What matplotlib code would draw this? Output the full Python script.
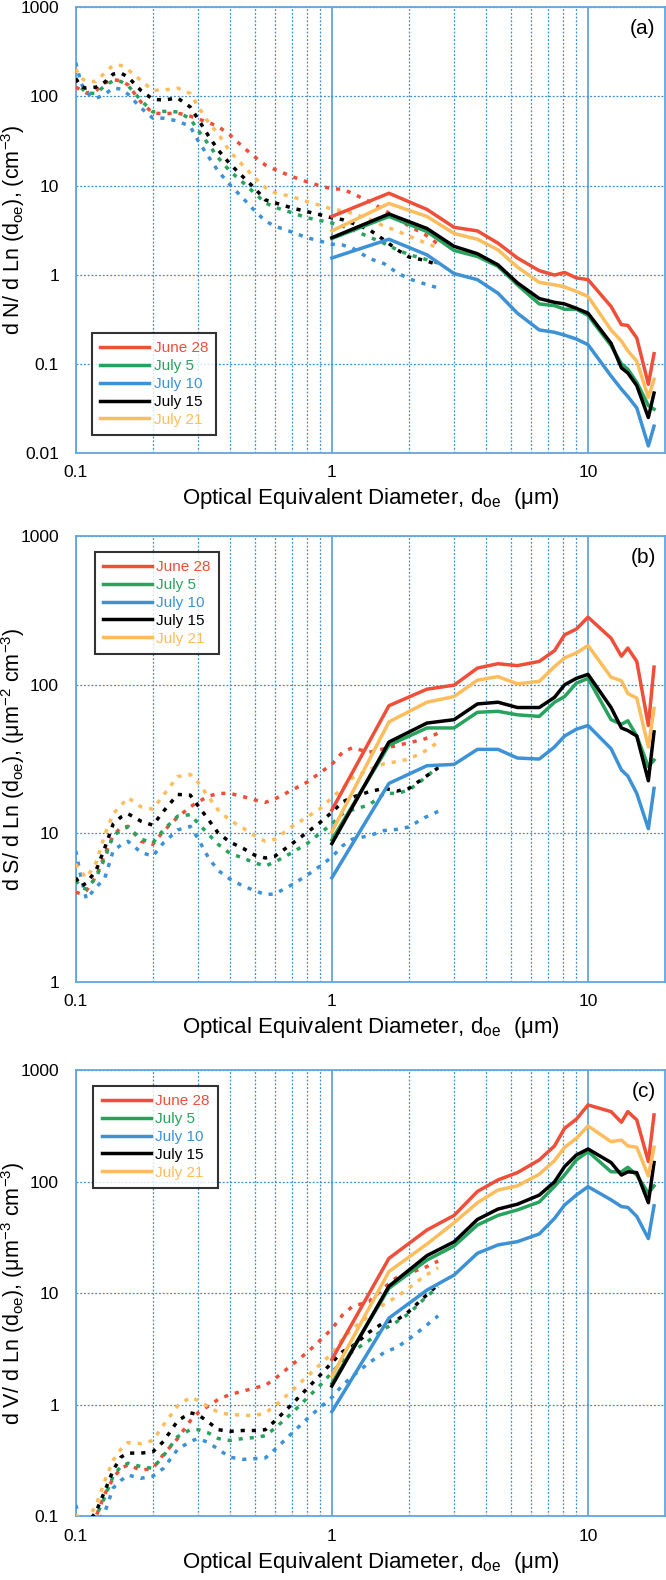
import matplotlib
matplotlib.use("Agg")
import matplotlib.pyplot as plt
from matplotlib.ticker import FixedLocator, LogLocator, NullFormatter

plt.rcParams['font.family'] = ['Liberation Sans', 'DejaVu Sans']
plt.rcParams['mathtext.fontset'] = 'custom'
plt.rcParams['mathtext.rm'] = 'Liberation Sans'
plt.rcParams['mathtext.it'] = 'Liberation Sans:italic'

dates = ['June 28', 'July 5', 'July 10', 'July 15', 'July 21']
colors = ['#ef4f38', '#27a35d', '#3d92d6', '#000000', '#fdbd5c']

# small-particle instrument (dotted)
x_small = [0.1, 0.105, 0.11, 0.12, 0.13, 0.14, 0.15, 0.16, 0.18, 0.2, 0.22, 0.25,
           0.28, 0.3, 0.33, 0.36, 0.4, 0.45, 0.5, 0.55, 0.6, 0.7, 0.8, 0.9, 1.0,
           1.1, 1.2, 1.4, 1.6, 1.8, 2.0, 2.3, 2.6]
# optical counter (solid)
x_large = [1.0, 1.67, 2.35, 3.0, 3.7, 4.45, 5.3, 6.45, 7.4, 8.1, 9.0, 10.0,
           12.3, 13.5, 14.3, 15.5, 17.2, 18.1]

# (a) number
n_small_jun28 = [127, 118, 109, 116, 141, 154, 150, 135, 86, 65, 64, 65, 60, 56, 51, 46,
                 37, 27, 21, 17, 15.1, 12.6, 11.0, 9.9, 9.2, 9.1, 8.2, 6.6, 5.3, 4.3,
                 3.5, 2.85, 2.2]
n_small_jul05 = [160, 125, 109, 108, 132, 150, 147, 132, 90, 67, 68, 67, 56, 42, 29,
                 20.5, 14.5, 10.8, 8.2, 6.4, 5.7, 4.95, 4.35, 4.05, 3.8, 3.5, 3.2, 2.65,
                 2.25, 1.9, 1.68, 1.5, 1.35]
n_small_jul10 = [240, 140, 110, 95, 106, 124, 121, 106, 74, 57, 57, 53, 46, 32, 21,
                 14.5, 10.2, 7.2, 5.2, 4.0, 3.5, 3.0, 2.6, 2.38, 2.2, 2.15, 2.0, 1.52,
                 1.33, 1.05, 0.9, 0.79, 0.71]
n_small_jul15 = [158, 128, 124, 127, 145, 178, 183, 165, 116, 93, 91, 96, 76, 56, 36,
                 25, 17.5, 12.5, 9.3, 6.9, 6.4, 5.6, 5.1, 4.7, 4.35, 4.15, 3.8, 3.2,
                 2.45, 1.9, 1.58, 1.45, 1.29]
n_small_jul21 = [203, 160, 148, 147, 185, 223, 223, 200, 150, 117, 118, 124, 108, 78,
                 51, 38, 24, 16.8, 12.2, 9.5, 8.3, 7.5, 6.6, 6.0, 5.45, 5.2, 4.9, 4.2,
                 3.5, 3.1, 2.7, 2.3, 2.0]
n_large_jun28 = [4.5, 8.2, 5.4, 3.4, 3.1, 2.26, 1.54, 1.11, 0.99, 1.06, 0.92, 0.88,
                 0.44, 0.275, 0.27, 0.195, 0.059, 0.13]
n_large_jul05 = [2.55, 4.5, 3.05, 1.87, 1.6, 1.24, 0.77, 0.47, 0.45, 0.41, 0.41, 0.35,
                 0.16, 0.10, 0.087, 0.062, 0.034, 0.031]
n_large_jul10 = [1.54, 2.5, 1.67, 1.03, 0.88, 0.62, 0.37, 0.24, 0.226, 0.21, 0.19,
                 0.164, 0.073, 0.052, 0.043, 0.032, 0.012, 0.020]
n_large_jul15 = [2.6, 4.8, 3.3, 2.08, 1.72, 1.29, 0.81, 0.54, 0.49, 0.47, 0.42, 0.37,
                 0.17, 0.09, 0.079, 0.057, 0.025, 0.047]
n_large_jul21 = [3.1, 6.3, 4.5, 2.9, 2.5, 1.9, 1.22, 0.82, 0.77, 0.73, 0.65, 0.57,
                 0.24, 0.18, 0.14, 0.107, 0.042, 0.067]

# (b) surface
s_small_jun28 = [4.0, 3.9, 4.1, 5.1, 7.2, 9.6, 10.9, 11.1, 8.8, 8.4, 10.3, 12.8, 15.0,
                 16.2, 17.7, 18.5, 18.5, 17.6, 16.7, 16.1, 17.0, 19.5, 22, 25.5, 29,
                 35, 37.5, 35, 37, 39, 40.5, 43, 47]
s_small_jul05 = [4.8, 4.3, 4.2, 5.0, 6.8, 9.6, 10.4, 11.0, 9.1, 8.6, 10.5, 13.0, 13.3,
                 11.7, 9.8, 8.4, 7.3, 6.8, 6.3, 6.0, 6.4, 7.4, 8.5, 10.0, 11.5, 13.5,
                 14.3, 15.5, 18.5, 18.5, 19.5, 23.4, 28]
s_small_jul10 = [7.6, 5.0, 3.6, 4.3, 5.0, 7.6, 8.3, 8.8, 7.4, 7.0, 8.6, 10.5, 11.1,
                 9.2, 6.8, 5.6, 4.9, 4.4, 4.1, 3.85, 3.9, 4.5, 5.2, 6.0, 6.9, 8.2, 9.1,
                 9.6, 10.4, 10.6, 11.0, 12.7, 14.0]
s_small_jul15 = [5.0, 4.4, 4.6, 5.6, 8.0, 11.5, 12.8, 13.5, 12.0, 11.3, 14.0, 18.2,
                 18.0, 15.3, 12.3, 10.0, 8.7, 7.9, 7.1, 6.8, 7.0, 8.5, 10.1, 11.8, 13.8,
                 16.2, 17.4, 19, 20, 19.2, 20, 23.7, 27.5]
s_small_jul21 = [6.2, 5.5, 5.0, 6.3, 9.8, 13.5, 15.3, 17.3, 15.0, 14.5, 18, 24, 24.8,
                 22, 17.5, 14.3, 12.2, 10.8, 9.6, 8.8, 9.1, 11.1, 12.8, 14.6, 17.3, 20,
                 23.5, 26.8, 29.3, 30.3, 31.5, 35.5, 41]
s_large_jun28 = [14.3, 72, 93, 99, 129, 138, 134, 143, 169, 216, 236, 284, 205, 155,
                 176, 143, 53, 131]
s_large_jul05 = [9.0, 39, 51, 51, 65, 66, 62.5, 61, 76, 83, 102, 110, 58, 54, 57, 45,
                 28, 31]
s_large_jul10 = [5.0, 21.6, 28.4, 29, 36.6, 36.6, 32, 31.5, 38, 45, 50, 53, 37, 26.6,
                 24.2, 18.5, 10.7, 20]
s_large_jul15 = [8.5, 41, 55, 58, 74, 76, 70, 70, 82, 99.5, 110, 117, 70, 51, 49, 45,
                 22.5, 48]
s_large_jul21 = [10.2, 56, 76, 83, 107, 113, 101, 105, 132, 151, 163, 183, 112, 106,
                 87, 81, 38, 69]

# (c) volume
v_small_jun28 = [0.067, 0.065, 0.075, 0.1, 0.16, 0.22, 0.27, 0.29, 0.26, 0.27, 0.36,
                 0.5, 0.72, 0.85, 0.98, 1.12, 1.24, 1.33, 1.42, 1.5, 1.72, 2.3, 2.95,
                 3.8, 4.8, 6.4, 7.6, 8.5, 11.3, 14.0, 15.2, 17.0, 19.5]
v_small_jul05 = [0.08, 0.075, 0.077, 0.1, 0.15, 0.23, 0.28, 0.3, 0.28, 0.27, 0.35,
                 0.52, 0.6, 0.6, 0.56, 0.5, 0.48, 0.5, 0.51, 0.53, 0.62, 0.85, 1.15,
                 1.5, 1.95, 2.5, 3.0, 3.8, 4.8, 5.6, 6.6, 9.0, 11.5]
v_small_jul10 = [0.127, 0.088, 0.066, 0.086, 0.11, 0.18, 0.21, 0.235, 0.22, 0.23,
                 0.27, 0.4, 0.47, 0.5, 0.46, 0.4, 0.34, 0.325, 0.33, 0.335, 0.4, 0.56,
                 0.75, 0.95, 1.17, 1.5, 1.8, 2.4, 2.95, 3.3, 3.9, 5.0, 6.3]
v_small_jul15 = [0.083, 0.077, 0.084, 0.11, 0.17, 0.26, 0.34, 0.37, 0.37, 0.38, 0.47,
                 0.72, 0.85, 0.82, 0.7, 0.6, 0.58, 0.59, 0.59, 0.6, 0.72, 1.02, 1.4,
                 1.85, 2.4, 3.0, 3.35, 4.5, 5.5, 5.8, 6.9, 9.3, 12]
v_small_jul21 = [0.103, 0.096, 0.092, 0.125, 0.21, 0.32, 0.4, 0.46, 0.45, 0.48, 0.66,
                 0.98, 1.17, 1.1, 0.96, 0.86, 0.82, 0.81, 0.8, 0.85, 0.98, 1.35, 1.8,
                 2.3, 2.9, 3.9, 4.8, 6.3, 8.0, 9.4, 11.2, 14.3, 17]
v_large_jun28 = [2.56, 20.6, 37, 50, 82, 104, 121, 157, 210, 302, 364, 489, 426, 342,
                 426, 359, 152, 398]
v_large_jul05 = [1.56, 11.1, 19.9, 26.6, 41, 50, 56, 66, 91, 115, 157, 187, 123, 123,
                 135, 115, 79, 92]
v_large_jul10 = [0.87, 6.0, 10.7, 14.6, 22.9, 27.2, 29.1, 34.1, 47, 62, 76, 90.5, 69,
                 60, 59, 49, 31, 61]
v_large_jul15 = [1.48, 11.6, 21.8, 29, 46, 57, 63, 76, 100, 137, 174, 197, 149, 115,
                 123, 121, 65, 149]
v_large_jul21 = [1.8, 15.7, 27.7, 43, 65, 84.5, 92, 117, 155, 204, 245, 317, 229, 237,
                 210, 204, 113, 204]

GRID = '#3b8ed3'
SPINE = '#62a6df'
DOT = (0, (1.2, 2.0))


def draw_panel(ax, smalls, larges, ylabel, ylim, yticks, ylabels, tag, leg_loc,
               leg_anchor):
    ax.set_xscale('log')
    ax.set_yscale('log')
    ax.set_xlim(0.1, 20)
    ax.set_ylim(*ylim)

    for ys, c in zip(smalls, colors):
        ax.plot(x_small, ys, color=c, lw=2.5, ls=DOT, dash_capstyle='butt', zorder=3)
    handles = []
    for ys, c, lab in zip(larges, colors, dates):
        h, = ax.plot(x_large, ys, color=c, lw=2.5, label=lab, zorder=4)
        handles.append(h)

    ax.xaxis.set_major_locator(FixedLocator([0.1, 1, 10]))
    ax.set_xticklabels(['0.1', '1', '10'])
    ax.xaxis.set_minor_locator(LogLocator(base=10, subs=range(2, 10)))
    ax.xaxis.set_minor_formatter(NullFormatter())
    ax.yaxis.set_major_locator(FixedLocator(yticks))
    ax.set_yticklabels(ylabels)
    ax.yaxis.set_minor_locator(FixedLocator([]))

    ax.grid(which='major', axis='x', color=SPINE, lw=1.3, ls='-')
    ax.grid(which='minor', axis='x', color=GRID, lw=0.9, ls=(0, (1.5, 1.5)))
    ax.grid(which='major', axis='y', color=GRID, lw=0.9, ls=(0, (1.5, 1.5)))
    ax.set_axisbelow(True)
    for s in ax.spines.values():
        s.set_color(SPINE)
        s.set_linewidth(1.3)
    ax.tick_params(axis='both', which='both', length=0, labelsize=12.5)
    ax.tick_params(axis='y', pad=12)
    ax.tick_params(axis='x', pad=9)

    ax.set_xlabel('Optical Equivalent Diameter, d$_{\\mathrm{oe}}$  (μm)', fontsize=16)
    ax.xaxis.set_label_coords(0.5, -0.075)
    ax.set_ylabel(ylabel, fontsize=15.5)
    ax.yaxis.set_label_coords(-0.082, 0.5)

    ax.text(0.984, 0.952, tag, transform=ax.transAxes, ha='right', va='center',
            fontsize=15)

    leg = ax.legend(handles=handles, loc=leg_loc, bbox_to_anchor=leg_anchor,
                    borderaxespad=0, fontsize=11, frameon=True, fancybox=False,
                    handlelength=3.2, handletextpad=0.3, labelspacing=0.25,
                    borderpad=0.55)
    leg.get_frame().set_edgecolor('black')
    leg.get_frame().set_linewidth(1.5)
    for txt, c in zip(leg.get_texts(), colors):
        txt.set_color(c)
    leg.set_zorder(10)


fig = plt.figure(figsize=(6.66, 15.8), dpi=100)
ax_a = fig.add_axes([0.1137, 0.7133, 0.885, 0.2821])
ax_b = fig.add_axes([0.1137, 0.3787, 0.885, 0.2821])
ax_c = fig.add_axes([0.1137, 0.0402, 0.885, 0.2824])

draw_panel(ax_a,
           [n_small_jun28, n_small_jul05, n_small_jul10, n_small_jul15, n_small_jul21],
           [n_large_jun28, n_large_jul05, n_large_jul10, n_large_jul15, n_large_jul21],
           'd N/ d Ln (d$_{\\mathrm{oe}}$), (cm$^{-3}$)', (0.01, 1000),
           [0.01, 0.1, 1, 10, 100, 1000], ['0.01', '0.1', '1', '10', '100', '1000'],
           '(a)', 'lower left', (0.027, 0.040))
draw_panel(ax_b,
           [s_small_jun28, s_small_jul05, s_small_jul10, s_small_jul15, s_small_jul21],
           [s_large_jun28, s_large_jul05, s_large_jul10, s_large_jul15, s_large_jul21],
           'd S/ d Ln (d$_{\\mathrm{oe}}$), (μm$^{-2}$ cm$^{-3}$)', (1, 1000),
           [1, 10, 100, 1000], ['1', '10', '100', '1000'],
           '(b)', 'upper left', (0.032, 0.964))
draw_panel(ax_c,
           [v_small_jun28, v_small_jul05, v_small_jul10, v_small_jul15, v_small_jul21],
           [v_large_jun28, v_large_jul05, v_large_jul10, v_large_jul15, v_large_jul21],
           'd V/ d Ln (d$_{\\mathrm{oe}}$), (μm$^{-3}$ cm$^{-3}$)', (0.1, 1000),
           [0.1, 1, 10, 100, 1000], ['0.1', '1', '10', '100', '1000'],
           '(c)', 'upper left', (0.030, 0.965))

fig.savefig('out.png', dpi=100)
